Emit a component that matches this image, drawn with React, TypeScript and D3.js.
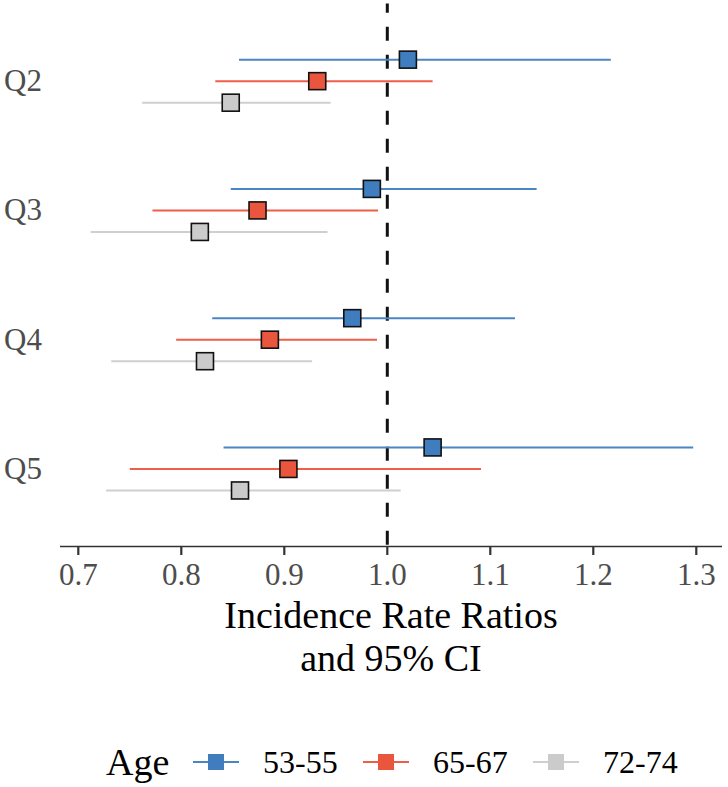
import React from "react";
import * as d3 from "d3";

const quintiles = ["Q2", "Q3", "Q4", "Q5"];
const ageGroups = ["53-55", "65-67", "72-74"];
const ageColors = ["#3f7dbf", "#ea553d", "#cbcbcb"];
const lineColors = ["#4a86c2", "#ef5f47", "#cfcfcf"];

// estimates per quintile, in age group order
const irr5355 = [1.02, 0.985, 0.966, 1.044];
const low5355 = [0.856, 0.848, 0.830, 0.841];
const high5355 = [1.217, 1.145, 1.124, 1.297];

const irr6567 = [0.932, 0.874, 0.886, 0.904];
const low6567 = [0.833, 0.772, 0.795, 0.750];
const high6567 = [1.044, 0.991, 0.990, 1.091];

const irr7274 = [0.848, 0.818, 0.823, 0.857];
const low7274 = [0.762, 0.712, 0.732, 0.727];
const high7274 = [0.945, 0.942, 0.927, 1.013];

const xTicks = [0.7, 0.8, 0.9, 1.0, 1.1, 1.2, 1.3];

const series = [
  { est: irr5355, lo: low5355, hi: high5355 },
  { est: irr6567, lo: low6567, hi: high6567 },
  { est: irr7274, lo: low7274, hi: high7274 },
];

const W = 728;
const H = 787;
const FONT = "'Liberation Serif', 'Times New Roman', serif";

export default function App() {
  const panelLeft = 60;
  const panelRight = 722;
  const panelTop = 3.6;
  const panelBottom = 546.5;

  const x = d3.scaleLinear().domain([0.7, 1.3]).range([78.3, 696.3]);
  const y = d3
    .scalePoint<string>()
    .domain(quintiles)
    .range([panelTop, panelBottom])
    .padding(0.6);
  const step = y.step();
  const dodge = (i: number) => (i - 1) * 0.1665 * step;
  const sq = 17;

  const legendItems = [
    { lineX: 193, textX: 263 },
    { lineX: 363, textX: 433 },
    { lineX: 533, textX: 603 },
  ];
  const legendY = 762;

  return (
    <svg
      width={W}
      height={H}
      style={{ position: "absolute", left: 0, top: 0, background: "#fff" }}
      fontFamily={FONT}
    >
      <rect x={0} y={0} width={W} height={H} fill="#fff" />
      {/* reference line */}
      <line
        x1={x(1)}
        x2={x(1)}
        y1={panelTop}
        y2={panelBottom}
        stroke="#111"
        strokeWidth={3}
        strokeDasharray="14,14"
        strokeDashoffset={4.9}
      />
      {/* CIs */}
      {series.map((s, gi) =>
        quintiles.map((q, qi) => (
          <line
            key={`ci-${gi}-${qi}`}
            x1={x(s.lo[qi])}
            x2={x(s.hi[qi])}
            y1={(y(q) as number) + dodge(gi)}
            y2={(y(q) as number) + dodge(gi)}
            stroke={lineColors[gi]}
            strokeWidth={2}
          />
        ))
      )}
      {/* points */}
      {series.map((s, gi) =>
        quintiles.map((q, qi) => (
          <rect
            key={`pt-${gi}-${qi}`}
            x={x(s.est[qi]) - sq / 2}
            y={(y(q) as number) + dodge(gi) - sq / 2}
            width={sq}
            height={sq}
            fill={ageColors[gi]}
            stroke="#111"
            strokeWidth={1.6}
          />
        ))
      )}
      {/* x axis */}
      <line x1={panelLeft} x2={panelRight} y1={panelBottom} y2={panelBottom} stroke="#333" strokeWidth={1.3} />
      {xTicks.map((t) => (
        <g key={t}>
          <line x1={x(t)} x2={x(t)} y1={panelBottom} y2={panelBottom + 8.5} stroke="#333" strokeWidth={2.2} />
          <text x={x(t)} y={585} textAnchor="middle" fontSize={31} fill="#4d4d4d">
            {t.toFixed(1)}
          </text>
        </g>
      ))}
      {/* y labels */}
      {quintiles.map((q) => (
        <text
          key={q}
          x={42}
          y={(y(q) as number) + 10}
          textAnchor="end"
          fontSize={31}
          fill="#4d4d4d"
        >
          {q}
        </text>
      ))}
      {/* x title */}
      <text x={391} y={628} textAnchor="middle" fontSize={38} fill="#000">
        Incidence Rate Ratios
      </text>
      <text x={391} y={671} textAnchor="middle" fontSize={38} fill="#000">
        and 95% CI
      </text>
      {/* legend */}
      <text x={106} y={legendY + 13} fontSize={38} fill="#000">
        Age
      </text>
      {ageGroups.map((g, i) => (
        <g key={g}>
          <line
            x1={legendItems[i].lineX}
            x2={legendItems[i].lineX + 46}
            y1={legendY}
            y2={legendY}
            stroke={lineColors[i]}
            strokeWidth={2}
          />
          <rect
            x={legendItems[i].lineX + 23 - 8}
            y={legendY - 8}
            width={16}
            height={16}
            fill={ageColors[i]}
          />
          <text x={legendItems[i].textX} y={legendY + 11} fontSize={32} fill="#000">
            {g}
          </text>
        </g>
      ))}
    </svg>
  );
}
